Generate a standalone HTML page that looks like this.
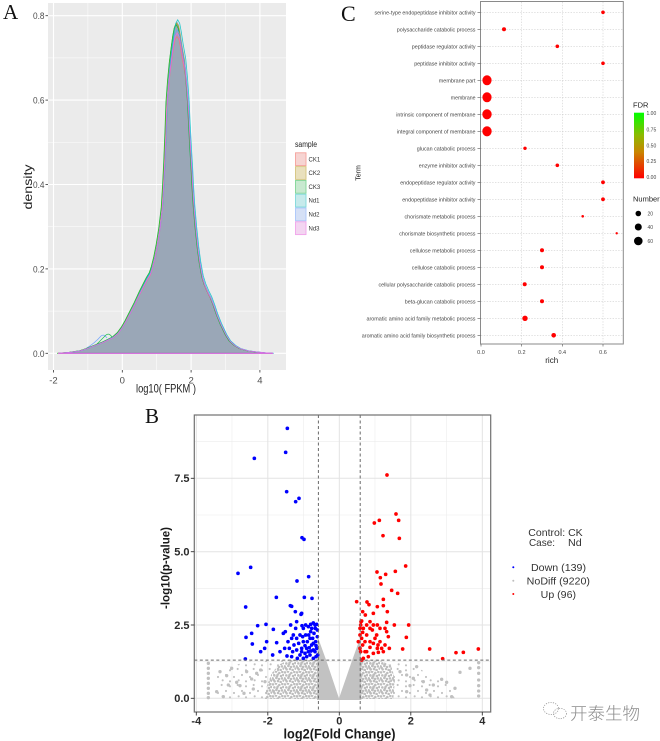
<!DOCTYPE html>
<html><head><meta charset="utf-8"><style>
html,body{margin:0;padding:0;background:#fff;}
svg{display:block;}
text{font-family:"Liberation Sans","Noto Sans CJK SC",sans-serif;}
</style></head><body>
<svg width="660" height="741" viewBox="0 0 660 741" xmlns="http://www.w3.org/2000/svg">
<defs>
<linearGradient id="fdr" x1="0" y1="0" x2="0" y2="1">
<stop offset="0" stop-color="#00ff00"/><stop offset="0.35" stop-color="#8fb800"/><stop offset="0.6" stop-color="#c98500"/><stop offset="1" stop-color="#ff0000"/>
</linearGradient>
<path id="dens" d="M58,353.3 L70,352.3 L80,350.8 L87,348.5 L93,346 L98,344 L103,342 L108,339.5 L113,337 L118,332.5 L122,327 L126,320 L130,312 L135,302 L140,291 L144,283 L147,277 L150,272 L152,266 L154.5,256 L157,243 L159.5,227 L162,206 L163.3,184.5 L164.5,160 L165.7,130 L166.7,100 L168.3,78 L170,60 L172,44 L173.5,33 L175,25 L177,21.5 L179,25 L180.5,33 L182.5,46 L185,60 L186.7,78 L188.3,100 L189.5,125 L190.8,150 L192,170 L192.7,184.5 L194,205 L196,228 L198,247 L200,262 L202.5,276 L205,284 L208,291 L211,297 L214,305 L217,314 L221,324 L226,334.5 L230,341 L235,345.5 L240,348.5 L248,350.8 L257,352 L265,352.8 L273,353.3 Z"/>
<pattern id="pdense" patternUnits="userSpaceOnUse" width="36" height="36">
<g fill="#bdbdbd">
<circle cx="3" cy="4" r="3.8"/><circle cx="12" cy="2" r="3.8"/><circle cx="22" cy="6" r="3.8"/><circle cx="31" cy="3" r="3.8"/>
<circle cx="7" cy="13" r="3.8"/><circle cx="17" cy="11" r="3.8"/><circle cx="27" cy="15" r="3.8"/><circle cx="34" cy="12" r="3.8"/>
<circle cx="2" cy="22" r="3.8"/><circle cx="13" cy="21" r="3.8"/><circle cx="21" cy="24" r="3.8"/><circle cx="30" cy="22" r="3.8"/>
<circle cx="8" cy="31" r="3.8"/><circle cx="18" cy="30" r="3.8"/><circle cx="26" cy="33" r="3.8"/><circle cx="35" cy="29" r="3.8"/>
<circle cx="5" cy="27" r="3.8"/><circle cx="15" cy="16" r="3.8"/>
</g>
</pattern>
<pattern id="psparse" patternUnits="userSpaceOnUse" width="48" height="48">
<g fill="#c2c2c2">
<circle cx="5" cy="6" r="3.2"/><circle cx="30" cy="10" r="3.2"/><circle cx="18" cy="24" r="3.2"/><circle cx="42" cy="30" r="3.2"/><circle cx="8" cy="40" r="3.2"/><circle cx="30" cy="43" r="3.2"/>
</g>
</pattern>
</defs>

<!-- ============ PANEL A ============ -->
<text x="3" y="19" style="font-family:'Liberation Serif',serif" font-size="21" fill="#111">A</text>
<rect x="48" y="3" width="238" height="367" fill="#ebebeb"/>
<g stroke="#fff" stroke-width="0.5">
<line x1="48" x2="286" y1="311.1" y2="311.1"/><line x1="48" x2="286" y1="226.7" y2="226.7"/>
<line x1="48" x2="286" y1="142.3" y2="142.3"/><line x1="48" x2="286" y1="57.9" y2="57.9"/>
<line x1="87.9" x2="87.9" y1="3" y2="370"/><line x1="156.7" x2="156.7" y1="3" y2="370"/><line x1="225.5" x2="225.5" y1="3" y2="370"/>
</g>
<g stroke="#fff" stroke-width="1.1">
<line x1="48" x2="286" y1="353.3" y2="353.3"/><line x1="48" x2="286" y1="268.9" y2="268.9"/>
<line x1="48" x2="286" y1="184.5" y2="184.5"/><line x1="48" x2="286" y1="100.1" y2="100.1"/><line x1="48" x2="286" y1="15.7" y2="15.7"/>
<line x1="53.5" x2="53.5" y1="3" y2="370"/><line x1="122.3" x2="122.3" y1="3" y2="370"/><line x1="191.1" x2="191.1" y1="3" y2="370"/><line x1="259.9" x2="259.9" y1="3" y2="370"/>
</g>
<use href="#dens" fill="#9aa7b7" stroke="none"/>
<g fill="none" stroke-width="0.8" stroke-opacity="0.85">
<path d="M86,348.5 Q95,343 101,336 Q104,333.5 107,338" stroke="#619cff"/>
<path d="M95,346 Q101,340 106,335 Q109,332.5 112,337" stroke="#00ba38"/>
<g transform="translate(0,353.3) scale(1,0.955) translate(0,-353.3)"><use href="#dens" fill="none" stroke="#f8766d"/></g>
<g transform="translate(-0.5,353.3) scale(1,0.995) translate(0,-353.3)"><use href="#dens" fill="none" stroke="#b79f00"/></g>
<g transform="translate(-0.8,353.3) scale(1,0.99) translate(0,-353.3)"><use href="#dens" fill="none" stroke="#00ba38"/></g>
<g transform="translate(0.7,353.3) scale(1,1.005) translate(0,-353.3)"><use href="#dens" fill="none" stroke="#00bfc4"/></g>
<g transform="translate(0.3,353.3) scale(1,0.975) translate(0,-353.3)"><use href="#dens" fill="none" stroke="#619cff"/></g>
<g transform="translate(0.1,353.3) scale(1,0.965) translate(0,-353.3)"><use href="#dens" fill="none" stroke="#f564e3"/></g>
</g>
<line x1="58" x2="273" y1="353.3" y2="353.3" stroke="#f564e3" stroke-width="0.8"/>
<g stroke="#333" stroke-width="0.8">
<line x1="45.5" x2="48" y1="353.3" y2="353.3"/><line x1="45.5" x2="48" y1="268.9" y2="268.9"/><line x1="45.5" x2="48" y1="184.5" y2="184.5"/><line x1="45.5" x2="48" y1="100.1" y2="100.1"/><line x1="45.5" x2="48" y1="15.7" y2="15.7"/>
<line x1="53.5" x2="53.5" y1="370" y2="372.5"/><line x1="122.3" x2="122.3" y1="370" y2="372.5"/><line x1="191.1" x2="191.1" y1="370" y2="372.5"/><line x1="259.9" x2="259.9" y1="370" y2="372.5"/>
</g>
<g font-size="9.5" fill="#4d4d4d" text-anchor="end">
<text x="44.5" y="356.8" textLength="11.5" lengthAdjust="spacingAndGlyphs">0.0</text>
<text x="44.5" y="272.4" textLength="11.5" lengthAdjust="spacingAndGlyphs">0.2</text>
<text x="44.5" y="188" textLength="11.5" lengthAdjust="spacingAndGlyphs">0.4</text>
<text x="44.5" y="103.6" textLength="11.5" lengthAdjust="spacingAndGlyphs">0.6</text>
<text x="44.5" y="19.2" textLength="11.5" lengthAdjust="spacingAndGlyphs">0.8</text>
</g>
<g font-size="9.5" fill="#4d4d4d" text-anchor="middle">
<text x="53.5" y="383.5">-2</text><text x="122.3" y="383.5">0</text><text x="191.1" y="383.5">2</text><text x="259.9" y="383.5">4</text>
</g>
<text x="166" y="392.5" font-size="12" fill="#222" text-anchor="middle" textLength="60" lengthAdjust="spacingAndGlyphs">log10( FPKM )</text>
<text transform="translate(32,187) rotate(-90)" font-size="12" fill="#222" text-anchor="middle" textLength="45" lengthAdjust="spacingAndGlyphs">density</text>
<!-- legend A -->
<text x="295" y="147" font-size="8" fill="#222" textLength="22" lengthAdjust="spacingAndGlyphs">sample</text>
<g stroke-width="0.9">
<rect x="295.5" y="152.8" width="10.5" height="12.8" fill="#f6d4d2" stroke="#f5a29c"/>
<rect x="295.5" y="166.6" width="10.5" height="12.8" fill="#e9e0bd" stroke="#d6c47e"/>
<rect x="295.5" y="180.4" width="10.5" height="12.8" fill="#c8e9d0" stroke="#80d696"/>
<rect x="295.5" y="194.2" width="10.5" height="12.8" fill="#c6eaeb" stroke="#80d9db"/>
<rect x="295.5" y="208" width="10.5" height="12.8" fill="#d5e0f6" stroke="#abc6fa"/>
<rect x="295.5" y="221.8" width="10.5" height="12.8" fill="#f3d5f1" stroke="#f1a3ea"/>
</g>
<g font-size="6" fill="#333">
<text x="308.5" y="161.3">CK1</text><text x="308.5" y="175.1">CK2</text><text x="308.5" y="188.9">CK3</text>
<text x="308.5" y="202.7">Nd1</text><text x="308.5" y="216.5">Nd2</text><text x="308.5" y="230.3">Nd3</text>
</g>

<!-- ============ PANEL C ============ -->
<text x="341" y="21" style="font-family:'Liberation Serif',serif" font-size="22" fill="#111">C</text>
<rect x="480.5" y="1.5" width="142.8" height="342.5" fill="#fff" stroke="#8a8a8a" stroke-width="1"/>
<g stroke="#cfcfcf" stroke-width="0.6" stroke-dasharray="1.4,1.4">
<line x1="521.7" x2="521.7" y1="2" y2="344"/><line x1="562.3" x2="562.3" y1="2" y2="344"/><line x1="603" x2="603" y1="2" y2="344"/>
<line x1="481" x2="623" y1="12.3" y2="12.3"/><line x1="481" x2="623" y1="29.3" y2="29.3"/><line x1="481" x2="623" y1="46.3" y2="46.3"/><line x1="481" x2="623" y1="63.3" y2="63.3"/>
<line x1="481" x2="623" y1="80.3" y2="80.3"/><line x1="481" x2="623" y1="97.3" y2="97.3"/><line x1="481" x2="623" y1="114.3" y2="114.3"/><line x1="481" x2="623" y1="131.3" y2="131.3"/>
<line x1="481" x2="623" y1="148.3" y2="148.3"/><line x1="481" x2="623" y1="165.3" y2="165.3"/><line x1="481" x2="623" y1="182.3" y2="182.3"/><line x1="481" x2="623" y1="199.3" y2="199.3"/>
<line x1="481" x2="623" y1="216.3" y2="216.3"/><line x1="481" x2="623" y1="233.3" y2="233.3"/><line x1="481" x2="623" y1="250.3" y2="250.3"/><line x1="481" x2="623" y1="267.3" y2="267.3"/>
<line x1="481" x2="623" y1="284.3" y2="284.3"/><line x1="481" x2="623" y1="301.3" y2="301.3"/><line x1="481" x2="623" y1="318.3" y2="318.3"/><line x1="481" x2="623" y1="335.3" y2="335.3"/>
</g>
<g stroke="#555" stroke-width="0.6">
<line x1="477.5" x2="480.5" y1="12.3" y2="12.3"/><line x1="477.5" x2="480.5" y1="29.3" y2="29.3"/><line x1="477.5" x2="480.5" y1="46.3" y2="46.3"/><line x1="477.5" x2="480.5" y1="63.3" y2="63.3"/>
<line x1="477.5" x2="480.5" y1="80.3" y2="80.3"/><line x1="477.5" x2="480.5" y1="97.3" y2="97.3"/><line x1="477.5" x2="480.5" y1="114.3" y2="114.3"/><line x1="477.5" x2="480.5" y1="131.3" y2="131.3"/>
<line x1="477.5" x2="480.5" y1="148.3" y2="148.3"/><line x1="477.5" x2="480.5" y1="165.3" y2="165.3"/><line x1="477.5" x2="480.5" y1="182.3" y2="182.3"/><line x1="477.5" x2="480.5" y1="199.3" y2="199.3"/>
<line x1="477.5" x2="480.5" y1="216.3" y2="216.3"/><line x1="477.5" x2="480.5" y1="233.3" y2="233.3"/><line x1="477.5" x2="480.5" y1="250.3" y2="250.3"/><line x1="477.5" x2="480.5" y1="267.3" y2="267.3"/>
<line x1="477.5" x2="480.5" y1="284.3" y2="284.3"/><line x1="477.5" x2="480.5" y1="301.3" y2="301.3"/><line x1="477.5" x2="480.5" y1="318.3" y2="318.3"/><line x1="477.5" x2="480.5" y1="335.3" y2="335.3"/>
<line x1="481" x2="481" y1="344" y2="346.5"/><line x1="521.7" x2="521.7" y1="344" y2="346.5"/><line x1="562.3" x2="562.3" y1="344" y2="346.5"/><line x1="603" x2="603" y1="344" y2="346.5"/>
</g>
<g font-size="5.6" fill="#444" text-anchor="end">
<text x="475.5" y="14.3" textLength="101" lengthAdjust="spacingAndGlyphs">serine-type endopeptidase inhibitor activity</text>
<text x="475.5" y="31.3" textLength="78.7" lengthAdjust="spacingAndGlyphs">polysaccharide catabolic process</text>
<text x="475.5" y="48.3" textLength="63.7" lengthAdjust="spacingAndGlyphs">peptidase regulator activity</text>
<text x="475.5" y="65.3" textLength="61.3" lengthAdjust="spacingAndGlyphs">peptidase inhibitor activity</text>
<text x="475.5" y="82.3" textLength="36.7" lengthAdjust="spacingAndGlyphs">membrane part</text>
<text x="475.5" y="99.3" textLength="24.7" lengthAdjust="spacingAndGlyphs">membrane</text>
<text x="475.5" y="116.3" textLength="79.3" lengthAdjust="spacingAndGlyphs">intrinsic component of membrane</text>
<text x="475.5" y="133.3" textLength="78.7" lengthAdjust="spacingAndGlyphs">integral component of membrane</text>
<text x="475.5" y="150.3" textLength="58.7" lengthAdjust="spacingAndGlyphs">glucan catabolic process</text>
<text x="475.5" y="167.3" textLength="56.7" lengthAdjust="spacingAndGlyphs">enzyme inhibitor activity</text>
<text x="475.5" y="184.3" textLength="75.3" lengthAdjust="spacingAndGlyphs">endopeptidase regulator activity</text>
<text x="475.5" y="201.3" textLength="73.3" lengthAdjust="spacingAndGlyphs">endopeptidase inhibitor activity</text>
<text x="475.5" y="218.3" textLength="71" lengthAdjust="spacingAndGlyphs">chorismate metabolic process</text>
<text x="475.5" y="235.3" textLength="76.3" lengthAdjust="spacingAndGlyphs">chorismate biosynthetic process</text>
<text x="475.5" y="252.3" textLength="65.7" lengthAdjust="spacingAndGlyphs">cellulose metabolic process</text>
<text x="475.5" y="269.3" textLength="63.7" lengthAdjust="spacingAndGlyphs">cellulose catabolic process</text>
<text x="475.5" y="286.3" textLength="97" lengthAdjust="spacingAndGlyphs">cellular polysaccharide catabolic process</text>
<text x="475.5" y="303.3" textLength="70.7" lengthAdjust="spacingAndGlyphs">beta-glucan catabolic process</text>
<text x="475.5" y="320.3" textLength="109" lengthAdjust="spacingAndGlyphs">aromatic amino acid family metabolic process</text>
<text x="475.5" y="337.3" textLength="113.7" lengthAdjust="spacingAndGlyphs">aromatic amino acid family biosynthetic process</text>
</g>
<g fill="#ff0000">
<circle cx="603" cy="12.3" r="1.8"/><circle cx="504" cy="29.3" r="2"/><circle cx="557.3" cy="46.3" r="1.8"/><circle cx="603" cy="63.3" r="1.8"/>
<ellipse cx="487" cy="80.3" rx="4.6" ry="5"/><ellipse cx="487" cy="97.3" rx="4.6" ry="5"/><ellipse cx="487" cy="114.3" rx="4.7" ry="5.1"/><ellipse cx="487" cy="131.3" rx="4.7" ry="5.1"/>
<circle cx="525" cy="148.3" r="1.7"/><circle cx="557.3" cy="165.3" r="1.8"/><circle cx="603" cy="182.3" r="1.9"/><circle cx="603" cy="199.3" r="1.9"/>
<circle cx="582.7" cy="216.3" r="1.3"/><circle cx="616.7" cy="233.3" r="1.2"/><circle cx="542" cy="250.3" r="2"/><circle cx="542" cy="267.3" r="2"/>
<circle cx="524.7" cy="284.3" r="2"/><circle cx="542" cy="301.3" r="2"/><circle cx="525" cy="318.3" r="2.7"/><circle cx="553.7" cy="335.3" r="2.3"/>
</g>
<g font-size="5.5" fill="#444" text-anchor="middle">
<text x="481" y="353.8">0.0</text><text x="521.7" y="353.8">0.2</text><text x="562.3" y="353.8">0.4</text><text x="603" y="353.8">0.6</text>
</g>
<text x="551.7" y="363" font-size="8" fill="#222" text-anchor="middle">rich</text>
<text transform="translate(360.5,173) rotate(-90)" font-size="7" fill="#222" text-anchor="middle">Term</text>
<!-- C legends -->
<text x="633" y="107.5" font-size="7.5" fill="#222">FDR</text>
<rect x="634" y="112.7" width="10" height="65.6" fill="url(#fdr)"/>
<g font-size="5" fill="#444">
<text x="646.5" y="115">1.00</text><text x="646.5" y="131.5">0.75</text><text x="646.5" y="147.5">0.50</text><text x="646.5" y="163">0.25</text><text x="646.5" y="179">0.00</text>
</g>
<text x="633" y="201.5" font-size="7.5" fill="#222">Number</text>
<g fill="#000">
<circle cx="638.3" cy="213.5" r="2.8"/><circle cx="638.3" cy="227" r="3.5"/><circle cx="638.3" cy="241" r="4.3"/>
</g>
<g font-size="5" fill="#444">
<text x="647.5" y="215.3">20</text><text x="647.5" y="228.8">40</text><text x="647.5" y="242.8">60</text>
</g>

<!-- ============ PANEL B ============ -->
<text x="145" y="423" style="font-family:'Liberation Serif',serif" font-size="21" fill="#111">B</text>
<rect x="194.3" y="415" width="296.4" height="297" fill="#fff"/>
<g stroke="#ececec" stroke-width="0.6">
<line x1="194.3" x2="490.7" y1="661.6" y2="661.6"/><line x1="194.3" x2="490.7" y1="588.3" y2="588.3"/><line x1="194.3" x2="490.7" y1="515" y2="515"/><line x1="194.3" x2="490.7" y1="441.6" y2="441.6"/>
<line x1="232" x2="232" y1="415" y2="712"/><line x1="303.5" x2="303.5" y1="415" y2="712"/><line x1="375" x2="375" y1="415" y2="712"/><line x1="446.5" x2="446.5" y1="415" y2="712"/>
</g>
<g stroke="#e3e3e3" stroke-width="1">
<line x1="194.3" x2="490.7" y1="698.3" y2="698.3"/><line x1="194.3" x2="490.7" y1="625" y2="625"/><line x1="194.3" x2="490.7" y1="551.7" y2="551.7"/><line x1="194.3" x2="490.7" y1="478.3" y2="478.3"/>
<line x1="196.3" x2="196.3" y1="415" y2="712"/><line x1="267.8" x2="267.8" y1="415" y2="712"/><line x1="339.3" x2="339.3" y1="415" y2="712"/><line x1="410.8" x2="410.8" y1="415" y2="712"/><line x1="482.3" x2="482.3" y1="415" y2="712"/>
</g>
<g transform="translate(140 395) scale(0.33333)">
<!-- gray regions -->
<polygon points="445,795 325,800 265,815 225,845 225,912 395,912" fill="url(#psparse)"/>
<polygon points="725,797 805,805 865,835 925,865 945,912 760,912" fill="url(#psparse)"/>
<polygon points="535,795 445,795 415,810 395,835 380,875 375,912 535,912" fill="url(#pdense)"/>
<polygon points="490,795 535,795 535,912 470,912 460,860" fill="url(#pdense)"/>
<polygon points="660,795 725,797 755,815 765,855 760,912 660,912" fill="url(#pdense)"/>
<polygon points="660,795 700,797 715,850 700,912 660,912" fill="url(#pdense)"/>
<polygon points="533,725 560,800 597,910 635,800 662,725 664,915 531,915" fill="#c2c2c2"/>
<g fill="#c0c0c0">
<circle cx="205" cy="805" r="5"/><circle cx="205" cy="820" r="5"/><circle cx="205" cy="835" r="5"/><circle cx="205" cy="850" r="5"/><circle cx="205" cy="865" r="5"/><circle cx="205" cy="880" r="5"/><circle cx="205" cy="895" r="5"/><circle cx="205" cy="908" r="5"/>
<circle cx="1016" cy="803" r="5"/><circle cx="1016" cy="818" r="5"/><circle cx="1016" cy="835" r="5"/><circle cx="1016" cy="855" r="5"/><circle cx="1016" cy="872" r="5"/><circle cx="1016" cy="888" r="5"/><circle cx="1016" cy="903" r="5"/>
<circle cx="240" cy="830" r="5"/><circle cx="260" cy="842" r="5"/><circle cx="275" cy="820" r="5"/><circle cx="290" cy="862" r="5"/><circle cx="300" cy="872" r="5"/><circle cx="320" cy="830" r="5"/><circle cx="335" cy="852" r="5"/><circle cx="340" cy="882" r="5"/><circle cx="350" cy="835" r="5"/><circle cx="362" cy="825" r="5"/><circle cx="375" cy="860" r="5"/><circle cx="230" cy="890" r="5"/><circle cx="265" cy="870" r="5"/><circle cx="312" cy="895" r="5"/><circle cx="250" cy="905" r="5"/>
<circle cx="990" cy="820" r="5"/><circle cx="960" cy="832" r="5"/><circle cx="905" cy="853" r="5"/><circle cx="880" cy="870" r="5"/><circle cx="860" cy="885" r="5"/><circle cx="850" cy="860" r="5"/><circle cx="830" cy="815" r="5"/><circle cx="820" cy="850" r="5"/><circle cx="810" cy="872" r="5"/><circle cx="800" cy="840" r="5"/><circle cx="800" cy="890" r="5"/><circle cx="920" cy="862" r="5"/><circle cx="945" cy="880" r="5"/><circle cx="780" cy="830" r="5"/><circle cx="870" cy="900" r="5"/><circle cx="935" cy="905" r="5"/>
</g>
<!-- blue -->
<g fill="#0000ff">
<circle cx="442" cy="100" r="5.5"/><circle cx="437" cy="172" r="5.5"/><circle cx="343" cy="190" r="5.5"/><circle cx="440" cy="290" r="5.5"/><circle cx="477" cy="310" r="5.5"/><circle cx="467" cy="320" r="5.5"/>
<circle cx="486" cy="428" r="5.5"/><circle cx="492" cy="433" r="5.5"/><circle cx="294" cy="535" r="5.5"/><circle cx="332" cy="517" r="5.5"/><circle cx="471" cy="558" r="5.5"/><circle cx="506" cy="545" r="5.5"/>
<circle cx="409" cy="607" r="5.5"/><circle cx="317" cy="636" r="5.5"/><circle cx="451" cy="632" r="5.5"/><circle cx="455" cy="634" r="5.5"/><circle cx="493" cy="607" r="5.5"/><circle cx="516" cy="610" r="5.5"/>
<circle cx="466" cy="650" r="5.5"/><circle cx="485" cy="655" r="5.5"/><circle cx="483" cy="658" r="5.5"/><circle cx="353" cy="692" r="5.5"/><circle cx="378" cy="688" r="5.5"/><circle cx="400" cy="703" r="5.5"/>
<circle cx="436" cy="710" r="5.5"/><circle cx="470" cy="680" r="5.5"/><circle cx="486" cy="692" r="5.5"/><circle cx="490" cy="700" r="5.5"/><circle cx="497" cy="690" r="5.5"/><circle cx="505" cy="695" r="5.5"/>
<circle cx="512" cy="688" r="5.5"/><circle cx="520" cy="684" r="5.5"/><circle cx="525" cy="690" r="5.5"/><circle cx="530" cy="688" r="5.5"/><circle cx="335" cy="715" r="5.5"/><circle cx="318" cy="727" r="5.5"/>
<circle cx="337" cy="747" r="5.5"/><circle cx="374" cy="760" r="5.5"/><circle cx="410" cy="743" r="5.5"/><circle cx="444" cy="740" r="5.5"/><circle cx="434" cy="760" r="5.5"/><circle cx="458" cy="770" r="5.5"/>
<circle cx="476" cy="745" r="5.5"/><circle cx="490" cy="740" r="5.5"/><circle cx="510" cy="730" r="5.5"/><circle cx="515" cy="750" r="5.5"/><circle cx="520" cy="745" r="5.5"/><circle cx="500" cy="760" r="5.5"/>
<circle cx="505" cy="770" r="5.5"/><circle cx="520" cy="765" r="5.5"/><circle cx="525" cy="770" r="5.5"/><circle cx="530" cy="760" r="5.5"/><circle cx="480" cy="780" r="5.5"/><circle cx="472" cy="790" r="5.5"/>
<circle cx="455" cy="785" r="5.5"/><circle cx="398" cy="780" r="5.5"/><circle cx="441" cy="783" r="5.5"/><circle cx="316" cy="792" r="5.5"/><circle cx="470" cy="765" r="5.5"/><circle cx="485" cy="770" r="5.5"/>
<circle cx="495" cy="775" r="5.5"/><circle cx="513" cy="768" r="5.5"/><circle cx="527" cy="740" r="5.5"/><circle cx="532" cy="725" r="5.5"/><circle cx="532" cy="705" r="5.5"/><circle cx="522" cy="715" r="5.5"/>
<circle cx="512" cy="710" r="5.5"/><circle cx="506" cy="720" r="5.5"/><circle cx="497" cy="720" r="5.5"/><circle cx="488" cy="725" r="5.5"/><circle cx="480" cy="720" r="5.5"/><circle cx="470" cy="730" r="5.5"/>
<circle cx="455" cy="730" r="5.5"/><circle cx="462" cy="750" r="5.5"/><circle cx="448" cy="760" r="5.5"/><circle cx="510" cy="780" r="5.5"/><circle cx="500" cy="785" r="5.5"/><circle cx="490" cy="790" r="5.5"/>
<circle cx="520" cy="790" r="5.5"/><circle cx="528" cy="785" r="5.5"/><circle cx="533" cy="780" r="5.5"/><circle cx="467" cy="700" r="5.5"/><circle cx="460" cy="720" r="5.5"/><circle cx="430" cy="715" r="5.5"/>
<circle cx="515" cy="700" r="5.5"/><circle cx="526" cy="700" r="5.5"/><circle cx="502" cy="740" r="5.5"/><circle cx="495" cy="752" r="5.5"/><circle cx="518" cy="730" r="5.5"/><circle cx="528" cy="752" r="5.5"/>
<circle cx="508" cy="758" r="5.5"/><circle cx="485" cy="760" r="5.5"/><circle cx="420" cy="770" r="5.5"/><circle cx="380" cy="740" r="5.5"/><circle cx="362" cy="770" r="5.5"/><circle cx="452" cy="690" r="5.5"/>
</g>
<!-- red -->
<g fill="#ff0000">
<circle cx="741" cy="240" r="5.5"/><circle cx="768" cy="357" r="5.5"/><circle cx="718" cy="376" r="5.5"/><circle cx="776" cy="376" r="5.5"/><circle cx="703" cy="384" r="5.5"/><circle cx="729" cy="422" r="5.5"/>
<circle cx="778" cy="430" r="5.5"/><circle cx="797" cy="513" r="5.5"/><circle cx="711" cy="531" r="5.5"/><circle cx="766" cy="529" r="5.5"/><circle cx="737" cy="538" r="5.5"/><circle cx="721" cy="548" r="5.5"/>
<circle cx="723" cy="567" r="5.5"/><circle cx="755" cy="586" r="5.5"/><circle cx="773" cy="595" r="5.5"/><circle cx="730" cy="613" r="5.5"/><circle cx="650" cy="620" r="5.5"/><circle cx="681" cy="621" r="5.5"/>
<circle cx="687" cy="629" r="5.5"/><circle cx="668" cy="650" r="5.5"/><circle cx="730" cy="632" r="5.5"/><circle cx="712" cy="635" r="5.5"/><circle cx="700" cy="655" r="5.5"/><circle cx="742" cy="650" r="5.5"/>
<circle cx="676" cy="660" r="5.5"/><circle cx="665" cy="678" r="5.5"/><circle cx="690" cy="680" r="5.5"/><circle cx="712" cy="690" r="5.5"/><circle cx="740" cy="682" r="5.5"/><circle cx="763" cy="690" r="5.5"/>
<circle cx="806" cy="690" r="5.5"/><circle cx="660" cy="700" r="5.5"/><circle cx="668" cy="712" r="5.5"/><circle cx="680" cy="720" r="5.5"/><circle cx="697" cy="705" r="5.5"/><circle cx="710" cy="720" r="5.5"/>
<circle cx="735" cy="700" r="5.5"/><circle cx="740" cy="710" r="5.5"/><circle cx="720" cy="740" r="5.5"/><circle cx="690" cy="740" r="5.5"/><circle cx="665" cy="730" r="5.5"/><circle cx="655" cy="740" r="5.5"/>
<circle cx="660" cy="760" r="5.5"/><circle cx="675" cy="770" r="5.5"/><circle cx="700" cy="745" r="5.5"/><circle cx="712" cy="760" r="5.5"/><circle cx="735" cy="750" r="5.5"/><circle cx="748" cy="760" r="5.5"/>
<circle cx="799" cy="727" r="5.5"/><circle cx="788" cy="762" r="5.5"/><circle cx="869" cy="762" r="5.5"/><circle cx="948" cy="773" r="5.5"/><circle cx="970" cy="772" r="5.5"/><circle cx="1015" cy="762" r="5.5"/>
<circle cx="908" cy="791" r="5.5"/><circle cx="670" cy="790" r="5.5"/><circle cx="680" cy="770" r="5.5"/><circle cx="700" cy="775" r="5.5"/><circle cx="715" cy="772" r="5.5"/><circle cx="665" cy="795" r="5.5"/>
<circle cx="690" cy="757" r="5.5"/><circle cx="725" cy="760" r="5.5"/><circle cx="730" cy="770" r="5.5"/><circle cx="705" cy="730" r="5.5"/><circle cx="660" cy="720" r="5.5"/><circle cx="675" cy="740" r="5.5"/>
<circle cx="690" cy="700" r="5.5"/><circle cx="662" cy="690" r="5.5"/><circle cx="663" cy="680" r="5.5"/><circle cx="670" cy="700" r="5.5"/><circle cx="680" cy="690" r="5.5"/><circle cx="700" cy="690" r="5.5"/>
<circle cx="720" cy="700" r="5.5"/><circle cx="745" cy="725" r="5.5"/><circle cx="714" cy="750" r="5.5"/><circle cx="668" cy="750" r="5.5"/><circle cx="685" cy="785" r="5.5"/><circle cx="662" cy="770" r="5.5"/>
</g>
</g>
<g stroke="#6a6a6a" stroke-width="1" stroke-dasharray="3,2.5">
<line x1="318.4" x2="318.4" y1="415" y2="712"/><line x1="360.2" x2="360.2" y1="415" y2="712"/>
<line x1="194.3" x2="490.7" y1="660.1" y2="660.1"/>
</g>
<rect x="194.3" y="415" width="296.4" height="297" fill="none" stroke="#707070" stroke-width="1.2"/>
<g stroke="#333" stroke-width="0.9">
<line x1="190.8" x2="194.3" y1="698.3" y2="698.3"/><line x1="190.8" x2="194.3" y1="625" y2="625"/><line x1="190.8" x2="194.3" y1="551.7" y2="551.7"/><line x1="190.8" x2="194.3" y1="478.3" y2="478.3"/>
<line x1="196.3" x2="196.3" y1="712" y2="715.5"/><line x1="267.8" x2="267.8" y1="712" y2="715.5"/><line x1="339.3" x2="339.3" y1="712" y2="715.5"/><line x1="410.8" x2="410.8" y1="712" y2="715.5"/><line x1="482.3" x2="482.3" y1="712" y2="715.5"/>
</g>
<g font-size="11" font-weight="bold" fill="#2a2a2a" text-anchor="end">
<text x="189.5" y="702.2">0.0</text><text x="189.5" y="628.9">2.5</text><text x="189.5" y="555.6">5.0</text><text x="189.5" y="482.2">7.5</text>
</g>
<g font-size="11" font-weight="bold" fill="#2a2a2a" text-anchor="middle">
<text x="196.3" y="724.5">-4</text><text x="267.8" y="724.5">-2</text><text x="339.3" y="724.5">0</text><text x="410.8" y="724.5">2</text><text x="482.3" y="724.5">4</text>
</g>
<text x="339.5" y="738.5" font-size="13.5" font-weight="bold" fill="#1a1a1a" text-anchor="middle" textLength="112" lengthAdjust="spacingAndGlyphs">log2(Fold Change)</text>
<text transform="translate(169.5,568) rotate(-90)" font-size="12" font-weight="bold" fill="#1a1a1a" text-anchor="middle" textLength="82" lengthAdjust="spacingAndGlyphs">-log10(p-value)</text>
<!-- B legend -->
<g font-size="10.5" fill="#333">
<text x="528.3" y="536" textLength="54.4" lengthAdjust="spacingAndGlyphs">Control: CK</text>
<text x="529" y="546" textLength="26" lengthAdjust="spacingAndGlyphs">Case:</text>
<text x="568" y="546" textLength="13.7" lengthAdjust="spacingAndGlyphs">Nd</text>
<text x="531" y="571" textLength="55" lengthAdjust="spacingAndGlyphs">Down (139)</text>
<text x="526.7" y="584.5" textLength="63.3" lengthAdjust="spacingAndGlyphs">NoDiff (9220)</text>
<text x="540.7" y="598" textLength="35.3" lengthAdjust="spacingAndGlyphs">Up (96)</text>
</g>
<circle cx="513.3" cy="567.3" r="1" fill="#0000ff"/>
<circle cx="513.3" cy="580.7" r="1" fill="#bebebe"/>
<circle cx="513.3" cy="594" r="1" fill="#ff0000"/>

<!-- watermark -->
<g fill="none" stroke="#9a9a9a" stroke-width="0.8" stroke-dasharray="1.2,1.2">
<ellipse cx="551" cy="708.5" rx="7.5" ry="6"/>
<ellipse cx="560" cy="713.5" rx="6.5" ry="5.2"/>
</g>
<text x="570" y="719.5" font-size="17" fill="#8c8c8c" style="font-family:'Noto Sans CJK SC','WenQuanYi Zen Hei',sans-serif" font-weight="300" textLength="70" lengthAdjust="spacingAndGlyphs">开泰生物</text>
</svg>
</body></html>
